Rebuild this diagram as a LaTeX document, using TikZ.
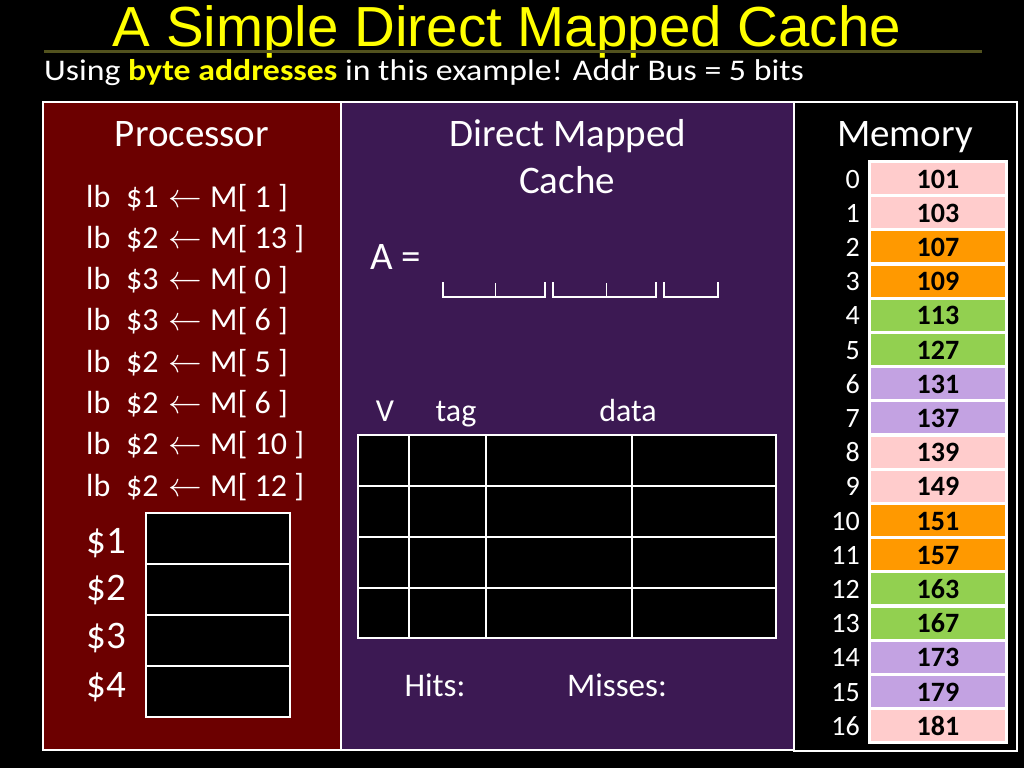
\documentclass[tikz,border=0pt]{standalone}
\usepackage{fontspec}
\setmainfont{Carlito}
\newfontfamily\arialf{Liberation Sans}
\definecolor{procred}{RGB}{108,0,0}
\definecolor{cachepurple}{RGB}{60,25,83}
\definecolor{titleyellow}{RGB}{255,255,0}
\definecolor{olive}{RGB}{82,82,30}
\definecolor{mpink}{RGB}{255,204,204}
\definecolor{morange}{RGB}{255,153,0}
\definecolor{mgreen}{RGB}{146,208,80}
\definecolor{mpurple}{RGB}{195,162,226}
\tikzset{
  panel/.style={draw=white, line width=2pt},
  wtxt/.style={text=white, inner sep=0pt},
  head/.style={wtxt, font=\fontsize{39}{44}\selectfont, anchor=base},
  instr/.style={wtxt, font=\fontsize{32}{38}\selectfont, anchor=base west},
  reglab/.style={wtxt, font=\fontsize{39}{44}\selectfont, anchor=base east},
  colhead/.style={wtxt, font=\fontsize{32}{38}\selectfont, anchor=base},
  gridline/.style={draw=white, line width=2.5pt},
  brk/.style={draw=white, line width=2pt},
  tick/.style={draw=white, line width=0.8pt},
  addr/.style={wtxt, font=\fontsize{28}{32}\selectfont, anchor=base east},
  val/.style={text=black, inner sep=0pt, font=\bfseries\fontsize{28}{32}\selectfont, anchor=base},
}
\begin{document}
\begin{tikzpicture}[x=1pt,y=-1pt]
\useasboundingbox (0,0) rectangle (1024,768);
\fill[black] (0,0) rectangle (1024,768);
% title
\node[text=titleyellow, inner sep=0pt, anchor=base, font=\arialf\fontsize{56.5}{60}\selectfont] (title) at (507,47) {A Simple Direct Mapped Cache};
\draw[olive, line width=3pt] (44,52) -- (982,52);
\node[wtxt, anchor=base west, font=\fontsize{30}{34}\selectfont] (sub) at (44,81) {\scalebox{1.127}[1]{Using \textcolor{titleyellow}{\bfseries byte addresses} in this example! Addr Bus = 5 bits}};
% panels
\filldraw[panel, fill=procred] (43,102) rectangle (341,750);
\filldraw[panel, fill=cachepurple] (341,102) rectangle (794,750);
\filldraw[panel, fill=black] (794,102) rectangle (1017,751);
% headings
\node[head] (proc) at (192,146) {Processor};
\node[head] (dmc1) at (568,146) {Direct Mapped};
\node[head] (dmc2) at (567,193) {Cache};
\node[head] (mem) at (905,146) {Memory};
% instructions
\foreach \r/\m [count=\i from 0] in {1/1,2/13,3/0,3/6,2/5,2/6,2/10,2/12}{
  \node[instr] (ins\i) at (86,{207+41.3*\i}) {\makebox[40pt][l]{lb}\makebox[42pt][l]{\$\r}\makebox[42pt][l]{\scalebox{1.35}{$\leftarrow$}}M[ \m\ ]};
}
% registers
\foreach \i in {0,1,2,3}{
  \filldraw[gridline, fill=black] (146,{513+51*\i}) rectangle (290,{513+51*(\i+1)});
}
\node[reglab] (r1) at (126,553) {\$1};
\node[reglab] (r2) at (126,600) {\$2};
\node[reglab] (r3) at (126,648) {\$3};
\node[reglab] (r4) at (126,697) {\$4};
% address
\node[wtxt, anchor=base west, font=\fontsize{39}{44}\selectfont] (A) at (370,269) {A =};
\draw[brk] (443,282) -- (443,297) -- (545,297) -- (545,282);
\draw[tick] (495,283) -- (495,296);
\draw[brk] (553,282) -- (553,297) -- (656,297) -- (656,282);
\draw[tick] (606,283) -- (606,296);
\draw[brk] (664,282) -- (664,297) -- (718,297) -- (718,282);
% cache table
\node[colhead] (V) at (385,421) {V};
\node[colhead] (tag) at (456,421) {tag};
\node[colhead] (data) at (628,421) {data};
\filldraw[gridline, fill=black] (358,435) rectangle (776,638);
\foreach \x in {409,486,632}{ \draw[gridline] (\x,435) -- (\x,638); }
\foreach \y in {486,537,588}{ \draw[gridline] (358,\y) -- (776,\y); }
\node[wtxt, anchor=base, font=\fontsize{33}{38}\selectfont] (hits) at (435,696) {Hits:};
\node[wtxt, anchor=base, font=\fontsize{33}{38}\selectfont] (miss) at (617,696) {Misses:};
% memory
\fill[white] (868,160) rectangle (1008,744);
\foreach \v/\c [count=\i from 0] in {101/mpink,103/mpink,107/morange,109/morange,113/mgreen,127/mgreen,131/mpurple,137/mpurple,139/mpink,149/mpink,151/morange,157/morange,163/mgreen,167/mgreen,173/mpurple,179/mpurple,181/mpink}{
  \fill[\c] (871,{163+34.2*\i}) rectangle (1005,{194+34.2*\i});
  \node[addr] (a\i) at (860,{188+34.2*\i}) {\i};
  \node[val] (v\i) at (938,{188+34.2*\i}) {\v};
}
\end{tikzpicture}
\end{document}
